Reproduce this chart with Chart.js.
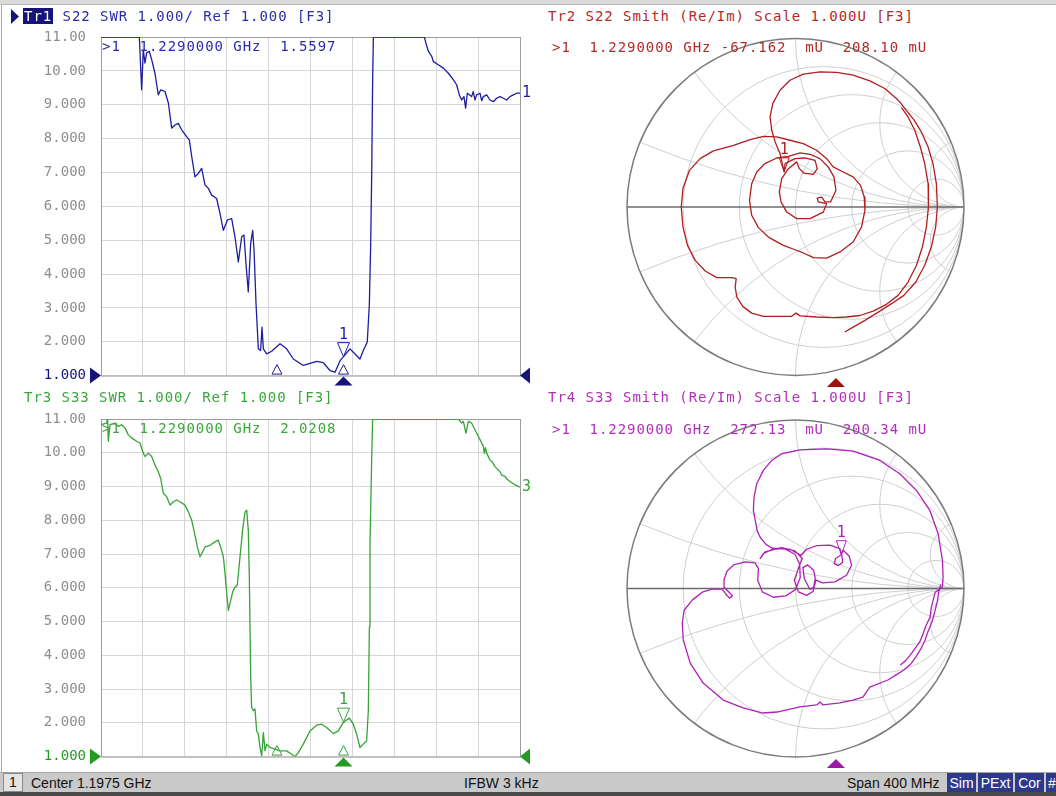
<!DOCTYPE html>
<html>
<head>
<meta charset="utf-8">
<script src="https://cdn.jsdelivr.net/npm/chart.js@4.4.0/dist/chart.umd.min.js"></script>
<style>
  html, body { margin: 0; padding: 0; background: #fff; }
  body { width: 1056px; height: 796px; position: relative; overflow: hidden; font-family: "DejaVu Sans Mono", monospace; }
  canvas { position: absolute; }
  .txt { position: absolute; white-space: pre; font-size: 14px; letter-spacing: 0.95px; line-height: 18px; }
  .sel { background: #14147a; color: #fff; padding: 0 1px; }
  #topband { position: absolute; left: 0; top: 0; width: 1056px; height: 4px; background: #dadada; border-bottom: 1px solid #b8b8b8; }
  #leftline { position: absolute; left: 1px; top: 5px; width: 1px; height: 767px; background: #a8a8a8; }
  #status { position: absolute; left: 0; top: 772px; width: 1056px; height: 20px; background: #c9c9c9; border-top: 1px solid #a4a4a4;
            font-family: "Liberation Sans", Arial, sans-serif; font-size: 14px; line-height: 20px; color: #111; }
  #status span { position: absolute; top: 0; white-space: pre; }
  #status .box { background: #2d3a8c; color: #fff; text-align: center; height: 19px; top: 0; }
  #status .num { left: 3px; width: 18px; text-align: center; border: 1px solid #8a8a8a; background: #e4e4e4; height: 17px; line-height: 17px; top: 0; }
  #bottomline { position: absolute; left: 0; top: 792px; width: 1056px; height: 4px; background: #4a4a4a; }
</style>
</head>
<body>
<div id="topband"></div>
<div id="leftline"></div>

<canvas id="swr22" width="540" height="399" style="left:0;top:0"></canvas>
<canvas id="swr33" width="540" height="399" style="left:0;top:381px"></canvas>
<canvas id="smith22" width="400" height="360" style="left:600px;top:30px"></canvas>
<canvas id="smith33" width="400" height="360" style="left:600px;top:410px"></canvas>

<svg style="position:absolute;left:11px;top:9px" width="9" height="15"><polygon points="0,0 8,7.5 0,15" fill="#14147a"/></svg>
<div class="txt" style="left:23px;top:7px;color:#2b2ba8"><span class="sel">Tr1</span> S22 SWR 1.000/ Ref 1.000 [F3]</div>
<div class="txt" style="left:102px;top:37px;color:#2b2ba8">&gt;1  1.2290000 GHz  1.5597</div>
<div class="txt" style="left:548px;top:7px;color:#b22a2a">Tr2 S22 Smith (Re/Im) Scale 1.000U [F3]</div>
<div class="txt" style="left:552px;top:38px;color:#b22a2a">&gt;1  1.2290000 GHz -67.162  mU  208.10 mU</div>

<div class="txt" style="left:24px;top:388px;color:#3aa63a">Tr3 S33 SWR 1.000/ Ref 1.000 [F3]</div>
<div class="txt" style="left:102px;top:419px;color:#3aa63a">&gt;1  1.2290000 GHz  2.0208</div>
<div class="txt" style="left:548px;top:388px;color:#b030b8">Tr4 S33 Smith (Re/Im) Scale 1.000U [F3]</div>
<div class="txt" style="left:552px;top:420px;color:#b030b8">&gt;1  1.2290000 GHz  272.13  mU  200.34 mU</div>

<div id="status">
  <span class="num">1</span>
  <span style="left:31px">Center 1.1975 GHz</span>
  <span style="left:464px">IFBW 3 kHz</span>
  <span style="left:847px">Span 400 MHz</span>
  <span class="box" style="left:947px;width:29px">Sim</span>
  <span class="box" style="left:978px;width:35px">PExt</span>
  <span class="box" style="left:1015px;width:29px">Cor</span>
  <span class="box" style="left:1046px;width:12px">#</span>
</div>
<div id="bottomline"></div>

<script>
// stimulus: center 1.1975 GHz, span 400 MHz (values in MHz)
const startFreq = 997.5;
const stopFreq = 1397.5;
const xGrid = [];
for (let i = 0; i <= 10; i++) xGrid.push(startFreq + 40 * i);
const swrTickLabels = ['1.000', '2.000', '3.000', '4.000', '5.000', '6.000', '7.000', '8.000', '9.000', '10.00', '11.00'];

// marker 1
const markerFreq = 1229.0;
const stimFreqs = [1165.5, 1229.0];
const s22MarkerSwr = 1.5597;
const s33MarkerSwr = 2.0208;
const s22MarkerGamma = [-0.067162, 0.20810];
const s33MarkerGamma = [0.27213, 0.20034];

// Tr1: S22 SWR
const s22Freq = [997.5, 1034.1, 1036.3, 1037.9, 1039.5, 1041.1, 1043.6, 1045.9, 1049.0, 1052.2,
  1054.5, 1058.6, 1061.8, 1065.0, 1068.1, 1071.3, 1074.5, 1079.3, 1081.8, 1084.1,
  1087.2, 1090.4, 1093.6, 1096.8, 1100.0, 1103.1, 1107.9, 1111.1, 1114.3, 1118.1,
  1122.2, 1125.4, 1128.6, 1131.8, 1134.0, 1135.9, 1138.1, 1140.4, 1142.3, 1143.6,
  1145.5, 1147.7, 1149.9, 1151.2, 1152.5, 1155.6, 1160.4, 1168.4, 1174.7, 1181.1,
  1190.6, 1203.4, 1209.7, 1216.1, 1220.9, 1225.7, 1229.0, 1235.2, 1240.0, 1244.7,
  1247.9, 1251.7, 1253.7, 1254.9, 1255.9, 1256.8, 1257.5, 1306.2, 1307.7, 1310.0,
  1313.2, 1314.7, 1319.5, 1324.3, 1329.1, 1333.8, 1337.0, 1339.6, 1341.8, 1344.0,
  1345.6, 1347.2, 1351.3, 1352.9, 1354.5, 1356.1, 1359.3, 1360.9, 1362.5, 1365.7,
  1368.8, 1372.0, 1375.2, 1378.4, 1381.6, 1384.8, 1387.9, 1391.1, 1394.3, 1397.5];
const s22Swr = [11, 11, 9.44, 10.62, 10.23, 10.53, 10.58, 10.33, 9.93, 9.29,
  9.44, 9.39, 9.05, 8.31, 8.40, 8.45, 8.26, 8.06, 7.96, 7.47,
  6.87, 6.97, 7.12, 6.63, 6.53, 6.33, 6.23, 5.79, 5.29, 5.59,
  5.64, 5.10, 4.36, 5.10, 5.15, 4.31, 3.47, 4.90, 5.29, 4.70,
  3.12, 1.79, 1.74, 2.43, 1.79, 1.64, 1.72, 1.94, 1.79, 1.49,
  1.30, 1.42, 1.38, 1.15, 1.10, 1.44, 1.56, 1.79, 1.64, 1.49,
  1.74, 1.99, 3.12, 4.80, 6.87, 9.64, 11, 11, 10.82, 10.58,
  10.43, 10.28, 10.18, 10.08, 9.93, 9.74, 9.59, 9.29, 9.14, 9.24,
  8.90, 9.34, 9.24, 9.39, 9.14, 9.29, 9.34, 9.12, 9.24, 9.29,
  9.14, 9.09, 9.19, 9.24, 9.19, 9.14, 9.24, 9.29, 9.34, 9.34];

// Tr3: S33 SWR
const s33Freq = [997.5, 1002.9, 1003.8, 1004.5, 1006.1, 1010.9, 1014.0, 1017.2, 1020.4, 1023.6,
  1026.8, 1031.5, 1034.7, 1037.9, 1039.5, 1042.7, 1045.9, 1049.0, 1052.2, 1054.5,
  1057.0, 1060.2, 1063.4, 1066.5, 1069.7, 1072.9, 1077.7, 1080.9, 1084.1, 1087.2,
  1089.5, 1092.0, 1094.6, 1096.8, 1101.6, 1106.3, 1109.5, 1111.7, 1114.3, 1115.9,
  1117.5, 1119.1, 1120.6, 1123.2, 1125.4, 1127.6, 1130.2, 1132.7, 1135.0, 1136.6,
  1138.1, 1139.1, 1140.4, 1141.3, 1142.9, 1144.5, 1146.1, 1147.7, 1149.3, 1150.9,
  1152.5, 1154.1, 1155.6, 1158.8, 1163.6, 1168.4, 1174.7, 1179.5, 1182.7, 1185.9,
  1190.6, 1197.0, 1203.4, 1208.1, 1212.9, 1219.3, 1224.1, 1229.0, 1234.6, 1238.4,
  1241.6, 1244.7, 1247.9, 1251.1, 1252.7, 1253.7, 1254.3, 1255.9, 1256.8, 1338.6,
  1341.8, 1343.4, 1345.9, 1348.2, 1351.3, 1354.5, 1359.3, 1362.5, 1363.5, 1364.5,
  1365.7, 1368.8, 1371.2, 1373.6, 1378.4, 1380.0, 1383.2, 1385.0, 1387.9, 1392.7, 1397.5];
const s33Swr = [10.83, 10.88, 11, 10.34, 10.83, 10.88, 10.78, 10.83, 10.73, 10.53,
  10.44, 10.34, 10.29, 9.99, 9.89, 9.99, 9.89, 9.64, 9.44, 9.24,
  8.80, 8.70, 8.45, 8.55, 8.60, 8.55, 8.45, 8.25, 8.00, 7.56,
  7.21, 6.92, 7.07, 7.21, 7.26, 7.36, 7.41, 7.21, 6.92, 6.42,
  5.83, 5.33, 5.53, 5.88, 6.02, 6.07, 6.92, 7.71, 8.25, 8.30,
  7.71, 6.32, 3.35, 2.46, 2.36, 2.41, 1.76, 1.66, 1.27, 1.02,
  1.71, 1.17, 1.37, 1.27, 1.22, 1.17, 1.17, 1.07, 1.00, 1.12,
  1.37, 1.76, 1.93, 1.96, 1.86, 1.68, 1.76, 2.02, 2.14, 1.96,
  1.66, 1.27, 1.37, 1.47, 2.36, 4.84, 7.31, 9.79, 11, 11,
  10.88, 10.93, 10.58, 10.93, 10.88, 10.68, 10.39, 10.19, 9.98, 10.15,
  9.99, 9.79, 9.72, 9.59, 9.44, 9.34, 9.30, 9.22, 9.15, 9.05, 8.98];

// Tr2: S22 reflection (Re, Im)
const s22Re = [0.629, 0.668, 0.708, 0.741, 0.767, 0.787, 0.789, 0.777, 0.753, 0.718,
  0.668, 0.609, 0.540, 0.461, 0.382, 0.303, 0.224, 0.125, 0.027, 0.003,
  -0.023, -0.092, -0.190, -0.260, -0.313, -0.348, -0.358, -0.352, -0.378, -0.467,
  -0.536, -0.595, -0.641, -0.668, -0.678, -0.668, -0.629, -0.566, -0.487, -0.368,
  -0.269, -0.190, -0.112, -0.033, 0.046, 0.125, 0.185, 0.224, 0.283, 0.342,
  0.386, 0.408, 0.412, 0.392, 0.342, 0.264, 0.185, 0.106, 0.046, -0.003,
  -0.072, -0.161, -0.220, -0.260, -0.273, -0.260, -0.230, -0.181, -0.112, -0.042,
  0.027, 0.086, 0.145, 0.194, 0.228, 0.240, 0.208, 0.175, 0.155, 0.129,
  0.135, 0.185, 0.165, 0.086, 0.007, -0.052, -0.086, -0.096, -0.082, -0.042,
  0.007, 0.023, 0.050, 0.106, 0.129, 0.116, 0.056, -0.003, -0.062, -0.067,
  -0.092, -0.121, -0.141, -0.151, -0.135, -0.092, -0.033, 0.046, 0.145, 0.244,
  0.342, 0.441, 0.530, 0.599, 0.619, 0.654, 0.702, 0.747, 0.787, 0.816,
  0.836, 0.842, 0.832, 0.806, 0.767, 0.714, 0.643, 0.570, 0.491, 0.412,
  0.342, 0.293];
const s22Im = [0.588, 0.533, 0.454, 0.355, 0.257, 0.138, 0, -0.118, -0.237, -0.345,
  -0.444, -0.523, -0.576, -0.616, -0.642, -0.651, -0.655, -0.651, -0.644, -0.628,
  -0.647, -0.647, -0.647, -0.628, -0.588, -0.533, -0.474, -0.424, -0.418, -0.418,
  -0.379, -0.316, -0.227, -0.118, 0, 0.109, 0.217, 0.286, 0.332, 0.365,
  0.399, 0.418, 0.415, 0.395, 0.375, 0.336, 0.286, 0.237, 0.207, 0.178,
  0.128, 0.059, -0.020, -0.118, -0.207, -0.266, -0.302, -0.300, -0.272, -0.253,
  -0.227, -0.178, -0.122, -0.049, 0.039, 0.138, 0.207, 0.257, 0.290, 0.300,
  0.320, 0.312, 0.286, 0.237, 0.178, 0.099, 0.030, 0.030, 0.059, 0.053,
  0.030, 0.020, -0.030, -0.069, -0.069, -0.030, 0.030, 0.089, 0.168, 0.227,
  0.267, 0.227, 0.201, 0.193, 0.227, 0.276, 0.290, 0.286, 0.257, 0.208,
  0.316, 0.385, 0.454, 0.533, 0.612, 0.691, 0.750, 0.786, 0.799, 0.797,
  0.780, 0.746, 0.701, 0.642, 0.622, 0.576, 0.517, 0.444, 0.355, 0.257,
  0.138, 0, -0.118, -0.237, -0.345, -0.444, -0.523, -0.572, -0.622, -0.671,
  -0.711, -0.740];

// Tr4: S33 reflection (Re, Im)
const s33Re = [0.862, 0.850, 0.842, 0.826, 0.809, 0.785, 0.767, 0.743, 0.714, 0.684,
  0.643, 0.595, 0.548, 0.518, 0.441, 0.400, 0.341, 0.264, 0.163, 0.145,
  0.127, 0.027, -0.110, -0.193, -0.311, -0.429, -0.548, -0.625, -0.666, -0.672,
  -0.661, -0.613, -0.554, -0.495, -0.435, -0.413, -0.392, -0.374, -0.394, -0.422,
  -0.424, -0.406, -0.363, -0.299, -0.240, -0.220, -0.224, -0.197, -0.132, -0.058,
  0.001, 0.028, 0.025, -0.003, -0.066, -0.137, -0.191, -0.210, -0.181, -0.082,
  -0.003, 0.040, 0.017, -0.007, 0.017, 0.066, 0.104, 0.120, 0.108, 0.072,
  0.044, 0.052, 0.086, 0.108, 0.116, 0.159, 0.234, 0.303, 0.333, 0.319,
  0.283, 0.272, 0.238, 0.230, 0.254, 0.280, 0.275, 0.264, 0.204, 0.126,
  0.066, 0.033, -0.033, -0.139, -0.175, -0.210, -0.228, -0.250, -0.246, -0.230,
  -0.191, -0.141, -0.082, 0.027, 0.185, 0.342, 0.501, 0.619, 0.718, 0.797,
  0.846, 0.872, 0.876, 0.872, 0.829, 0.817, 0.805, 0.799, 0.776, 0.758,
  0.740, 0.711, 0.681, 0.651, 0.622];
const s33Im = [0.025, -0.022, -0.075, -0.140, -0.200, -0.259, -0.312, -0.360, -0.407, -0.448,
  -0.484, -0.514, -0.543, -0.555, -0.585, -0.644, -0.662, -0.679, -0.691, -0.674,
  -0.691, -0.703, -0.733, -0.739, -0.709, -0.662, -0.561, -0.443, -0.306, -0.206,
  -0.129, -0.069, -0.022, -0.004, -0.004, -0.034, -0.057, -0.044, -0.022, 0.006,
  0.053, 0.104, 0.142, 0.158, 0.152, 0.118, 0.049, -0.020, -0.052, -0.044,
  -0.006, 0.065, 0.144, 0.203, 0.237, 0.233, 0.207, 0.178, 0.217, 0.243,
  0.223, 0.178, 0.118, 0.049, -0.020, -0.041, -0.018, 0.045, 0.108, 0.140,
  0.124, 0.059, -0.006, 0.009, 0.053, 0.033, 0.039, 0.079, 0.138, 0.191,
  0.227, 0.200, 0.178, 0.148, 0.136, 0.156, 0.197, 0.237, 0.258, 0.255,
  0.233, 0.197, 0.233, 0.239, 0.262, 0.304, 0.345, 0.464, 0.543, 0.622,
  0.701, 0.760, 0.800, 0.823, 0.829, 0.815, 0.760, 0.681, 0.582, 0.464,
  0.326, 0.168, 0.069, 0.009, -0.022, -0.069, -0.117, -0.170, -0.217, -0.265,
  -0.312, -0.354, -0.395, -0.431, -0.454];

// Smith grid circles
const smithR = [0.2, 0.5, 1, 2, 5];
const smithX = [0.2, 0.5, 1, 2, 5];

function tri(ctx, pts, fill, stroke) {
  ctx.beginPath();
  ctx.moveTo(pts[0], pts[1]);
  ctx.lineTo(pts[2], pts[3]);
  ctx.lineTo(pts[4], pts[5]);
  ctx.closePath();
  if (fill) { ctx.fillStyle = fill; ctx.fill(); }
  if (stroke) { ctx.strokeStyle = stroke; ctx.lineWidth = 1; ctx.stroke(); }
}

const swrDecor = {
  id: 'swrDecor',
  beforeDatasetsDraw(chart, args, o) {
    const { ctx, chartArea: a } = chart;
    ctx.save();
    ctx.strokeStyle = '#9c9c9c';
    ctx.lineWidth = 1;
    ctx.strokeRect(a.left + 0.5, a.top + 0.5, a.right - a.left, a.bottom - a.top);
    ctx.restore();
  },
  afterDatasetsDraw(chart, args, o) {
    const { ctx, chartArea: a, scales: { x, y } } = chart;
    ctx.save();
    const ry = y.getPixelForValue(1);
    // reference level arrows
    tri(ctx, [a.left - 11, ry - 8, a.left, ry, a.left - 11, ry + 8], o.refColor);
    tri(ctx, [a.right + 10, ry - 8, a.right, ry, a.right + 10, ry + 8], o.refColor);
    // stimulus markers on the axis
    stimFreqs.forEach(f => {
      const px = x.getPixelForValue(f);
      tri(ctx, [px - 5, a.bottom - 1.5, px, a.bottom - 11, px + 5, a.bottom - 1.5], null, o.color);
    });
    const mx = x.getPixelForValue(markerFreq);
    tri(ctx, [mx - 9, a.bottom + 10, mx, a.bottom + 1, mx + 9, a.bottom + 10], o.refColor);
    // marker 1
    const my = y.getPixelForValue(o.markerVal);
    tri(ctx, [mx - 6, my - 14, mx + 6, my - 14, mx, my], null, o.color);
    ctx.fillStyle = o.color;
    ctx.font = '15px "DejaVu Sans Mono"';
    ctx.textAlign = 'center';
    ctx.textBaseline = 'middle';
    ctx.fillText('1', mx, my - 22);
    // trace label at right edge
    const ds = chart.data.datasets[0].data;
    ctx.textAlign = 'left';
    ctx.fillText(o.endLabel, a.right + 2, y.getPixelForValue(ds[ds.length - 1].y));
    ctx.restore();
  }
};

function swrChart(id, freqs, vals, o) {
  return new Chart(document.getElementById(id), {
    type: 'line',
    data: {
      datasets: [{
        data: freqs.map((f, i) => ({ x: f, y: vals[i] })),
        borderColor: o.color, borderWidth: 1.3, pointRadius: 0, tension: 0, borderJoinStyle: 'round'
      }]
    },
    options: {
      responsive: false, animation: false, events: [],
      layout: { padding: o.pad },
      scales: {
        x: {
          type: 'linear', min: startFreq, max: stopFreq,
          afterBuildTicks: s => { s.ticks = xGrid.map(v => ({ value: v })); },
          afterFit: s => { s.height = 0; },
          ticks: { display: false },
          grid: { color: '#d6d6d6', drawTicks: false },
          border: { display: false }
        },
        y: {
          min: 1, max: 11,
          afterFit: s => { s.width = 101; },
          ticks: {
            stepSize: 1, padding: 15,
            color: c => (c.tick && c.tick.value === 1) ? o.refColor : '#8e8e8e',
            font: { family: 'DejaVu Sans Mono', size: 14 },
            callback: (v, i) => swrTickLabels[i]
          },
          grid: { color: '#d6d6d6', drawTicks: false },
          border: { display: false }
        }
      },
      plugins: { legend: { display: false }, tooltip: { enabled: false }, swrDecor: o }
    },
    plugins: [swrDecor]
  });
}

const smithDecor = {
  id: 'smithDecor',
  beforeDatasetsDraw(chart, args, o) {
    const { ctx, scales: { x, y } } = chart;
    const cx = x.getPixelForValue(0), cy = y.getPixelForValue(0);
    const R = x.getPixelForValue(1) - cx;
    ctx.save();
    ctx.beginPath();
    ctx.arc(cx, cy, R, 0, 2 * Math.PI);
    ctx.clip();
    ctx.strokeStyle = '#cfcfcf';
    ctx.lineWidth = 1;
    smithR.forEach(r => {
      ctx.beginPath();
      ctx.arc(cx + R * r / (1 + r), cy, R / (1 + r), 0, 2 * Math.PI);
      ctx.stroke();
    });
    smithX.forEach(v => [v, -v].forEach(s => {
      ctx.beginPath();
      ctx.arc(cx + R, cy - R / s, R / Math.abs(s), 0, 2 * Math.PI);
      ctx.stroke();
    }));
    ctx.restore();
    ctx.save();
    ctx.strokeStyle = '#6c6c6c';
    ctx.lineWidth = 1.4;
    ctx.beginPath();
    ctx.moveTo(cx - R, cy);
    ctx.lineTo(cx + R, cy);
    ctx.stroke();
    ctx.strokeStyle = '#7c7c7c';
    ctx.lineWidth = 1.5;
    ctx.beginPath();
    ctx.arc(cx, cy, R, 0, 2 * Math.PI);
    ctx.stroke();
    ctx.restore();
  },
  afterDatasetsDraw(chart, args, o) {
    const { ctx, chartArea: a, scales: { x, y } } = chart;
    ctx.save();
    const mx = x.getPixelForValue(o.marker[0]);
    const my = y.getPixelForValue(o.marker[1]);
    tri(ctx, [mx - 5, my - 14, mx + 5, my - 14, mx, my], null, o.color);
    ctx.fillStyle = o.color;
    ctx.font = '15px "DejaVu Sans Mono"';
    ctx.textAlign = 'center';
    ctx.textBaseline = 'middle';
    ctx.fillText('1', mx, my - 22);
    const tx = a.left + 0.62 * (a.right - a.left);
    tri(ctx, [tx - 9, a.bottom + 11, tx, a.bottom + 2, tx + 9, a.bottom + 11], o.arrowColor);
    ctx.restore();
  }
};

function smithChart(id, re, im, o) {
  return new Chart(document.getElementById(id), {
    type: 'scatter',
    data: {
      datasets: [{
        data: re.map((r, i) => ({ x: r, y: im[i] })),
        showLine: true, borderColor: o.color, borderWidth: 1.3, pointRadius: 0, tension: 0, borderJoinStyle: 'round'
      }]
    },
    options: {
      responsive: false, animation: false, events: [],
      layout: { padding: o.pad },
      scales: {
        x: { type: 'linear', min: -1, max: 1, display: false },
        y: { type: 'linear', min: -1, max: 1, display: false }
      },
      plugins: { legend: { display: false }, tooltip: { enabled: false }, smithDecor: o }
    },
    plugins: [smithDecor]
  });
}

// y tick padding sets the bottom inset (label half height + padding), so the
// canvas is sized to leave the plot bottom where it should be
swrChart('swr22', s22Freq, s22Swr, {
  color: '#1d1d9e', refColor: '#14147a', markerVal: s22MarkerSwr, endLabel: '1',
  pad: { top: 37, right: 20, bottom: 10, left: 0 }
});
swrChart('swr33', s33Freq, s33Swr, {
  color: '#36a336', refColor: '#249a24', markerVal: s33MarkerSwr, endLabel: '3',
  pad: { top: 38, right: 20, bottom: 10, left: 0 }
});
smithChart('smith22', s22Re, s22Im, {
  color: '#b01e1e', arrowColor: '#a01010', marker: s22MarkerGamma,
  pad: { top: 8, right: 36, bottom: 14, left: 27 }
});
smithChart('smith33', s33Re, s33Im, {
  color: '#ad22b5', arrowColor: '#9a1aa4', marker: s33MarkerGamma,
  pad: { top: 10, right: 36, bottom: 13, left: 27 }
});
</script>
</body>
</html>
